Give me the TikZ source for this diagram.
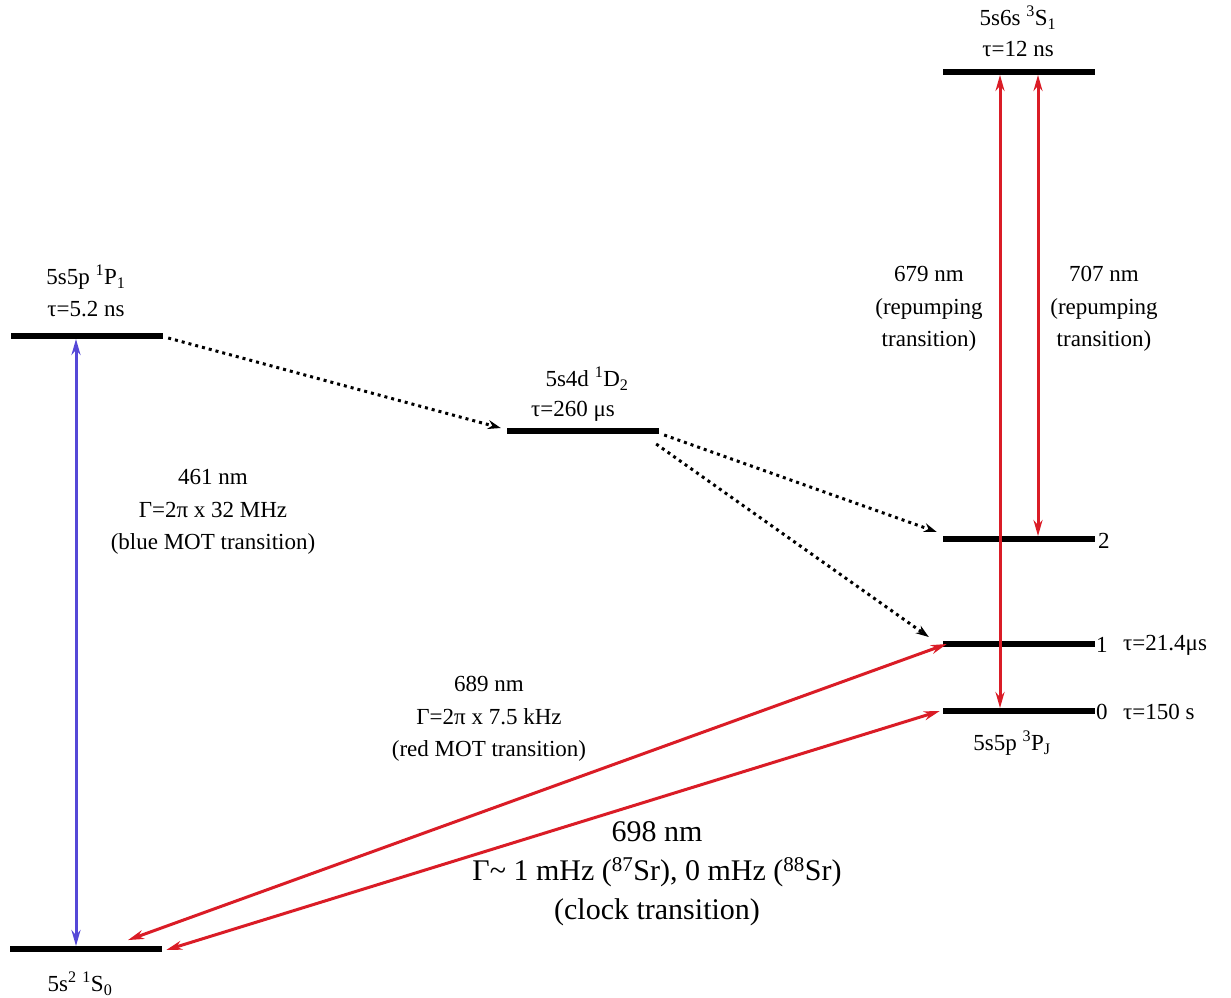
\documentclass[tikz,border=0pt]{standalone}
\usepackage{fontspec}
\setmainfont{Liberation Serif}
\usetikzlibrary{arrows.meta}
\definecolor{trred}{RGB}{218,28,38}
\definecolor{trblue}{RGB}{85,72,215}
\tikzset{
  level/.style={fill=black,draw=none,minimum width=152pt,minimum height=5.5pt,inner sep=0pt},
  txt/.style={font=\fontsize{23}{32.5}\selectfont,align=center,inner sep=0pt},
  bigtxt/.style={font=\fontsize{30}{39}\selectfont,align=center,inner sep=0pt},
  redarr/.style={draw=trred,line width=3pt,{Stealth[length=16pt,width=9pt]}-{Stealth[length=16pt,width=9pt]}},
  bluearr/.style={draw=trblue,line width=3pt,{Stealth[length=16pt,width=9pt]}-{Stealth[length=16pt,width=9pt]}},
  decay/.style={draw=black,line width=3pt,dash pattern=on 3pt off 4pt,-{Stealth[length=13pt,width=9pt]}}
}
\begin{document}
\begin{tikzpicture}[x=1pt,y=-1pt]
\useasboundingbox (0,0) rectangle (1231,997);
% levels
\node[level] (P1) at (87,336) {};
\node[level] (S0) at (86,949) {};
\node[level] (D2) at (583,431) {};
\node[level] (S1) at (1019,72) {};
\node[level] (P2) at (1019,539) {};
\node[level] (P1t) at (1019,644) {};
\node[level] (P0) at (1019,711) {};
% level labels
\node[txt] (lP1a) at (86,277) {5s5p \textsuperscript{1}P\textsubscript{1}};
\node[txt] (lP1b) at (86,309) {τ=5.2 ns};
\node[txt] (lS0) at (80,984) {5s\textsuperscript{2} \textsuperscript{1}S\textsubscript{0}};
\node[txt] (lD2a) at (587,379) {5s4d \textsuperscript{1}D\textsubscript{2}};
\node[txt] (lD2b) at (573,411) {τ=260 μs};
\node[txt] (lS1a) at (1018,18) {5s6s \textsuperscript{3}S\textsubscript{1}};
\node[txt] (lS1b) at (1018,49) {τ=12 ns};
\node[txt,anchor=west] (n2) at (1098,541) {2};
\node[txt,anchor=west] (n1) at (1096,645) {1};
\node[txt,anchor=west] (n0) at (1096,712) {0};
\node[txt,anchor=west] (t1) at (1123,645) {τ=21.4μs};
\node[txt,anchor=west] (t0) at (1123,712) {τ=150 s};
\node[txt] (lPJ) at (1012,743) {5s5p \textsuperscript{3}P\textsubscript{J}};
% transition labels
\node[txt] (l461) at (213,512) {461 nm\\Γ=2π x 32 MHz\\(blue MOT transition)};
\node[txt] (l689) at (489,719) {689 nm\\Γ=2π x 7.5 kHz\\(red MOT transition)};
\node[bigtxt] (l698) at (657,874) {698 nm\\Γ\textasciitilde{} 1 mHz (\textsuperscript{87}Sr), 0 mHz (\textsuperscript{88}Sr)\\(clock transition)};
\node[txt] (l679) at (929,309) {679 nm\\(repumping\\transition)};
\node[txt] (l707) at (1104,309) {707 nm\\(repumping\\transition)};
% transitions
\draw[bluearr] ([xshift=-11pt]P1.south) -- ([xshift=-10pt]S0.north);
\draw[redarr] ([xshift=-19pt]S1.south) -- ([xshift=-19pt]P0.north);
\draw[redarr] ([xshift=19pt]S1.south) -- ([xshift=19pt]P2.north);
\draw[redarr] ([xshift=42pt,yshift=6pt]S0.north) -- ([xshift=4pt]P1t.west);
\draw[redarr] ([xshift=4pt,yshift=-1pt]S0.east) -- ([xshift=-3pt]P0.west);
% decays
\draw[decay] ([xshift=5pt,yshift=-2pt]P1.east) -- ([xshift=-6pt,yshift=3pt]D2.west);
\draw[decay] ([xshift=5pt,yshift=-4pt]D2.east) -- ([xshift=-6pt,yshift=7pt]P2.west);
\draw[decay] ([xshift=-3pt,yshift=-13pt]D2.east) -- ([xshift=-14pt,yshift=7pt]P1t.west);
\end{tikzpicture}
\end{document}
